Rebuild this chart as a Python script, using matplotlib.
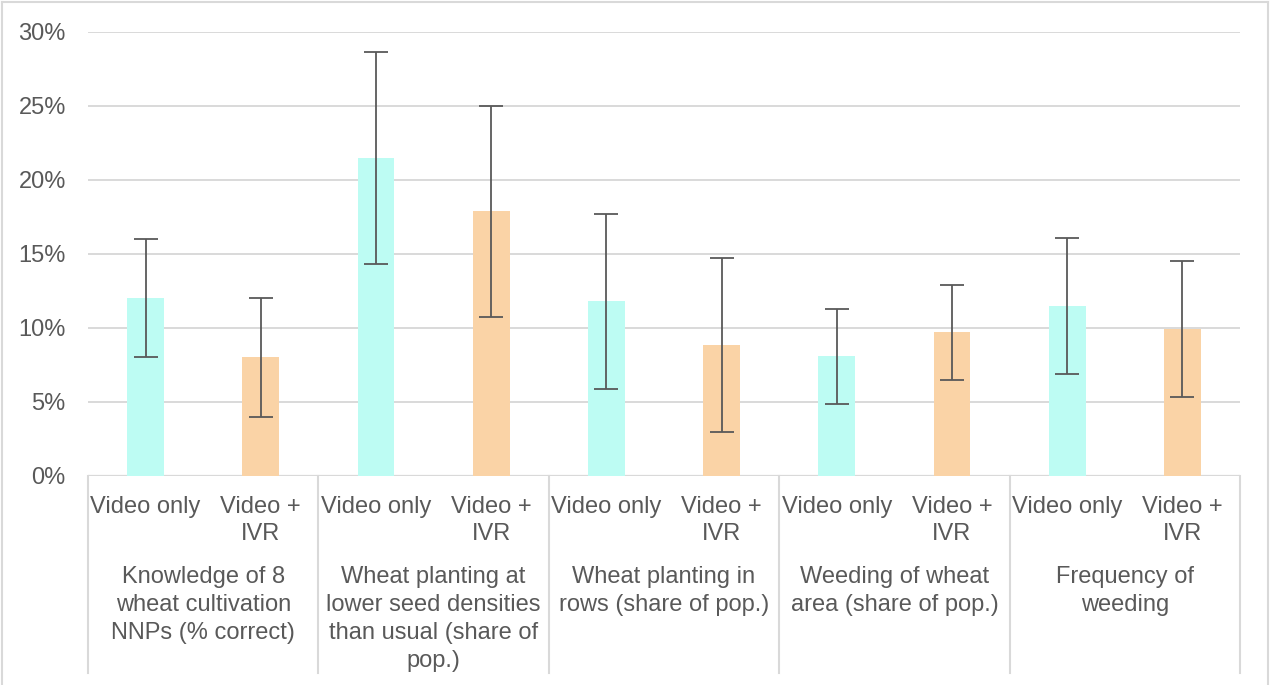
import numpy as np
import matplotlib.pyplot as plt
from matplotlib.lines import Line2D

plt.rcParams['font.family'] = ['Liberation Sans', 'DejaVu Sans']

# outcomes (groups) and arms
groups = ['Knowledge of 8\nwheat cultivation\nNNPs (% correct)',
          'Wheat planting at\nlower seed densities\nthan usual (share of\npop.)',
          'Wheat planting in\nrows (share of pop.)',
          'Weeding of wheat\narea (share of pop.)',
          'Frequency of\nweeding']
arms = ['Video only', 'Video +\nIVR']

# point estimates and confidence bounds (share)
video_only = [0.120, 0.2145, 0.118, 0.081, 0.1147]
video_only_lo = [0.080, 0.143, 0.059, 0.0486, 0.0688]
video_only_hi = [0.160, 0.286, 0.177, 0.113, 0.1606]
video_ivr = [0.080, 0.179, 0.0884, 0.0972, 0.0992]
video_ivr_lo = [0.040, 0.107, 0.0297, 0.0646, 0.0535]
video_ivr_hi = [0.120, 0.250, 0.147, 0.129, 0.145]

yticks = [0, 0.05, 0.10, 0.15, 0.20, 0.25, 0.30]

c_video = '#BDFCF3'
c_ivr = '#FAD3A6'
c_text = '#595959'
c_grid = '#D9D9D9'

fig = plt.figure(figsize=(12.71, 6.85), dpi=100)
W, H = 1271, 685
ax = fig.add_axes([88 / W, 209 / H, 1152 / W, 444.5 / H])

n = len(groups)
xv = np.arange(n) * 2 + 0.5
xi = np.arange(n) * 2 + 1.5
bw = 0.32

ax.bar(xv, video_only, width=bw, color=c_video, zorder=2)
ax.bar(xi, video_ivr, width=bw, color=c_ivr, zorder=2)

err_kw = dict(fmt='none', ecolor=c_text, elinewidth=1.3, capsize=8.5, capthick=1.3, zorder=3)
ax.errorbar(xv, video_only,
            yerr=[np.array(video_only) - video_only_lo, np.array(video_only_hi) - video_only],
            **err_kw)
ax.errorbar(xi, video_ivr,
            yerr=[np.array(video_ivr) - video_ivr_lo, np.array(video_ivr_hi) - video_ivr],
            **err_kw)

ax.set_xlim(0, 2 * n)
ax.set_ylim(0, 0.30)
ax.set_yticks(yticks)
ax.set_yticklabels([f'{int(round(v * 100))}%' for v in yticks])
ax.tick_params(axis='y', length=0, pad=16, labelsize=17, labelcolor=c_text)
ax.set_xticks([])
ax.yaxis.grid(True, color=c_grid, linewidth=1.4)
ax.set_axisbelow(True)
for s in ax.spines.values():
    s.set_visible(False)
ax.axhline(0, color=c_grid, linewidth=1.6, zorder=1)

# multi-level category axis
tr = ax.get_xaxis_transform()
bottom = -(672.7 - 476) / 444.5
for k in range(n + 1):
    ax.plot([2 * k, 2 * k], [0, bottom], transform=tr, color=c_grid,
            linewidth=1.5, clip_on=False)
for k in range(n):
    ax.text(xv[k], -0.045, arms[0], transform=tr, ha='center', va='top',
            fontsize=17, color=c_text)
    ax.text(xi[k], -0.045, arms[1], transform=tr, ha='center', va='top',
            fontsize=17, color=c_text, linespacing=1.27)
    ax.text(2 * k + 1, -0.2025, groups[k], transform=tr, ha='center', va='top',
            fontsize=17, color=c_text, linespacing=1.36)

# chart border
for xs, ys in [([2, 2], [0, 683]), ([2, 1268], [683, 683]), ([1268, 1268], [0, 683])]:
    fig.add_artist(Line2D([x / W for x in xs], [y / H for y in ys], color=c_grid, linewidth=1.5))

fig.savefig('out.png', dpi=100)
